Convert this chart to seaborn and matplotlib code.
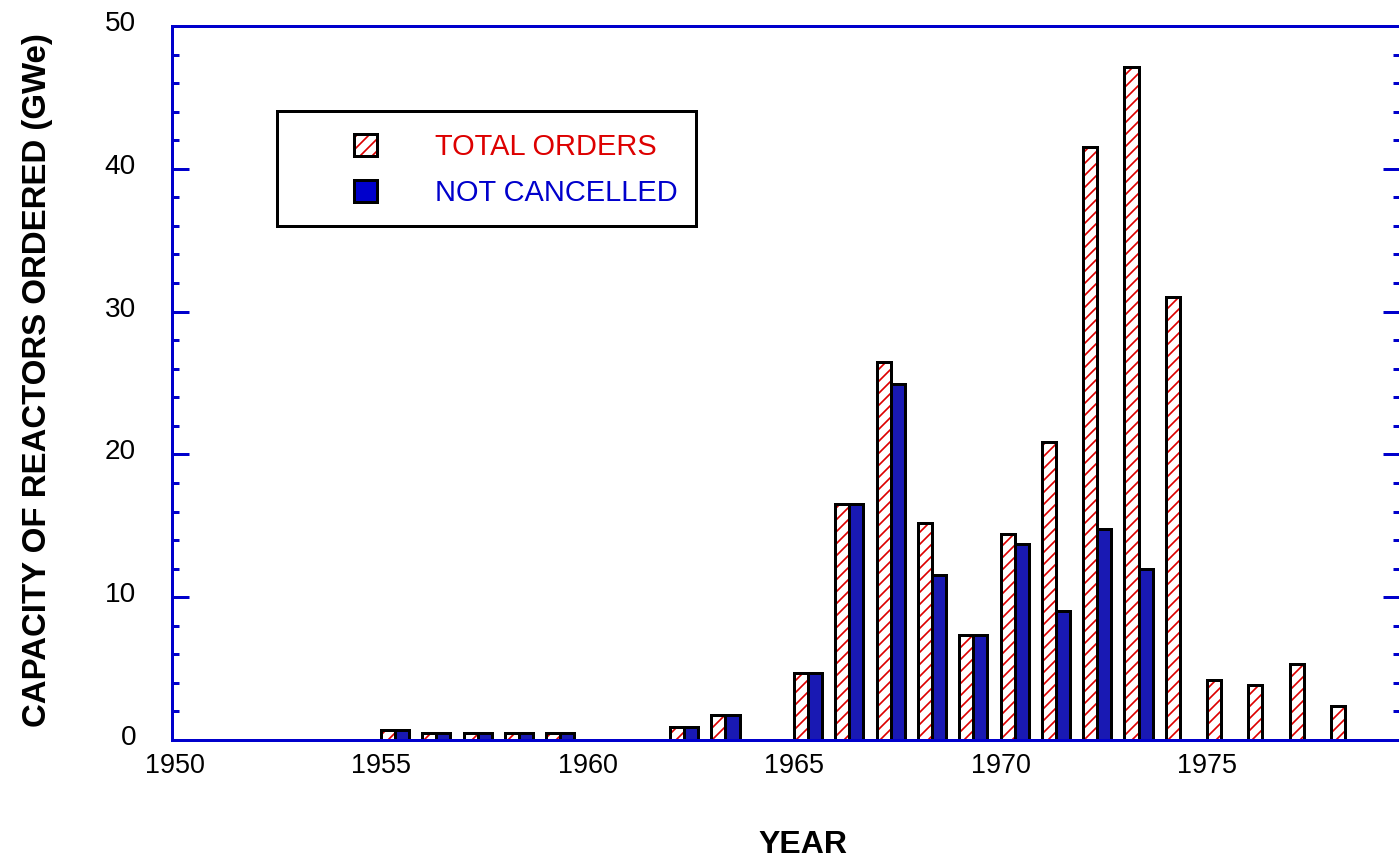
import numpy as np
import pandas as pd
import matplotlib
matplotlib.use("Agg")
import matplotlib.pyplot as plt
import matplotlib.transforms as mtransforms
from matplotlib.patches import Patch, Rectangle
from matplotlib.ticker import MultipleLocator
import seaborn as sns

# ---------------- DATA ----------------

series_names = ["TOTAL ORDERS", "NOT CANCELLED"]

years_total = [1955, 1956, 1957, 1958, 1959, 1962, 1963, 1965, 1966, 1967, 1968,
               1969, 1970, 1971, 1972, 1973, 1974, 1975, 1976, 1977, 1978]
total_orders = [0.7, 0.5, 0.5, 0.5, 0.5, 0.9, 1.75, 4.7, 16.5, 26.5, 15.2,
                7.35, 14.4, 20.9, 41.5, 47.1, 31.0, 4.2, 3.85, 5.3, 2.4]

years_kept = [1955, 1956, 1957, 1958, 1959, 1962, 1963, 1965, 1966, 1967, 1968,
              1969, 1970, 1971, 1972, 1973]
not_cancelled = [0.7, 0.5, 0.5, 0.5, 0.5, 0.9, 1.75, 4.7, 16.5, 24.9, 11.55,
                 7.35, 13.75, 9.0, 14.75, 12.0]

x_ticks = [1950, 1955, 1960, 1965, 1970, 1975]
y_ticks = [0, 10, 20, 30, 40, 50]

# ---------------- STYLE ----------------

RED = "#dd0000"
BLUE = "#0000cc"
BAR_WIDTH = 0.68      # both bars of one year together
DPI = 72

sns.set_style("white")
plt.rcParams["font.family"] = ["Liberation Sans", "DejaVu Sans"]
plt.rcParams["hatch.linewidth"] = 1.7
plt.rcParams["text.color"] = "black"
plt.rcParams["axes.labelcolor"] = "black"

df = pd.concat([
    pd.DataFrame({"year": years_total, "gwe": total_orders, "series": series_names[0]}),
    pd.DataFrame({"year": years_kept, "gwe": not_cancelled, "series": series_names[1]}),
], ignore_index=True)
# the old plot starts each year's pair of bars at the year itself
df["pos"] = df["year"] + BAR_WIDTH / 2

fig = plt.figure(figsize=(1399 / DPI, 858 / DPI), dpi=DPI)
ax = fig.add_axes([172 / 1399, 118 / 858, 1228 / 1399, 714 / 858])

sns.barplot(data=df, x="pos", y="gwe", hue="series", hue_order=series_names,
            native_scale=True, dodge=True, width=BAR_WIDTH, gap=0,
            errorbar=None, palette={series_names[0]: "white", series_names[1]: BLUE},
            edgecolor="black", linewidth=3, legend=False, ax=ax)

# red hatching under the black outline of the total-order bars
for bar in ax.patches[:]:
    if tuple(bar.get_facecolor()[:3]) == (1.0, 1.0, 1.0):
        ax.add_patch(Rectangle(bar.get_xy(), bar.get_width(), bar.get_height(),
                               facecolor="white", edgecolor=RED, hatch="//",
                               linewidth=0, zorder=bar.get_zorder() - 0.1))
        bar.set_facecolor("none")

ax.set_xlim(1949.94, 1979.67)
ax.set_ylim(0, 50)

for side in ["left", "right", "top", "bottom"]:
    ax.spines[side].set_visible(True)
    ax.spines[side].set_color(BLUE)
    ax.spines[side].set_linewidth(3)

ax.set_xticks(x_ticks)
ax.set_xticklabels([str(y) for y in x_ticks])
ax.tick_params(axis="x", length=0, pad=13, labelsize=27, labelcolor="black")

ax.set_yticks(y_ticks)
ax.set_yticklabels([str(v) for v in y_ticks])
ax.yaxis.set_minor_locator(MultipleLocator(2))
ax.tick_params(axis="y", which="both", direction="in", left=True, right=True,
               color=BLUE, width=3, labelsize=28, pad=36, labelcolor="black")
ax.tick_params(axis="y", which="major", length=17)
ax.tick_params(axis="y", which="minor", length=7)

ax.set_xlabel("YEAR", fontsize=32, fontweight="bold")
ax.xaxis.set_label_coords(0.514, -0.126)
ax.set_ylabel("CAPACITY OF REACTORS ORDERED (GWe)", fontsize=33, fontweight="bold")
ax.yaxis.set_label_coords(-0.097, 0.504)

# legend: swatches + coloured text, frame drawn separately
h_total = (Patch(facecolor="white", edgecolor=RED, hatch="//", linewidth=0),
           Patch(facecolor="none", edgecolor="black", linewidth=3))
h_kept = Patch(facecolor=BLUE, edgecolor="black", linewidth=3)
leg = ax.legend([h_total, h_kept], series_names, loc="upper left",
                bbox_to_anchor=(354 / 1399, 1 - 133 / 858),
                bbox_transform=fig.transFigure, frameon=False, borderpad=0,
                borderaxespad=0, fontsize=29, handlelength=0.8, handleheight=0.76,
                handletextpad=2.0, labelspacing=0.62, labelcolor=[RED, BLUE])
fig.add_artist(Rectangle((277 / 1399, 1 - 226 / 858), 419 / 1399, 115 / 858,
                         transform=fig.transFigure, fill=False,
                         edgecolor="black", linewidth=3, zorder=5))

# tick labels sit a little above their ticks in the original
offset = mtransforms.ScaledTranslation(0, 5 / DPI, fig.dpi_scale_trans)
for lab in ax.get_yticklabels():
    lab.set_transform(lab.get_transform() + offset)

fig.savefig("out.png", dpi=DPI)
